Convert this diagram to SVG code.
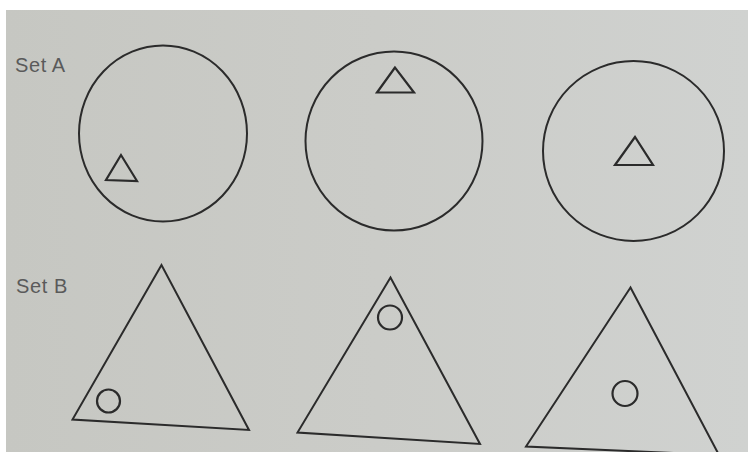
<svg xmlns="http://www.w3.org/2000/svg" width="748" height="452" viewBox="0 0 748 452">
  <defs>
    <linearGradient id="paper" x1="0" y1="0" x2="1" y2="0">
      <stop offset="0" stop-color="#c6c7c2"/>
      <stop offset="0.5" stop-color="#cbccc8"/>
      <stop offset="1" stop-color="#d0d2d0"/>
    </linearGradient>
  </defs>
  <style>
    .shape { fill: none; stroke: #2b2b2b; stroke-width: 2; stroke-linejoin: miter; }
    .small { fill: none; stroke: #2b2b2b; stroke-width: 2.2; }
    .label { font-family: "Liberation Sans", Arial, sans-serif; font-size: 20px; fill: #5a5a5a; letter-spacing: 0.6px; }
  </style>
  <rect x="0" y="0" width="748" height="452" fill="#ffffff"/>
  <rect x="6" y="10" width="742" height="442" fill="url(#paper)"/>

  <g id="label-set-a"><text class="label" x="15" y="72">Set A</text></g>
  <g id="label-set-b"><text class="label" x="16" y="293">Set B</text></g>

  <g id="a1">
    <ellipse class="shape" cx="163" cy="133.5" rx="84" ry="88"/>
    <polygon class="small" points="121,155 106,180 137,181"/>
  </g>
  <g id="a2">
    <ellipse class="shape" cx="394" cy="141" rx="88.5" ry="89.5"/>
    <polygon class="small" points="395,67.5 377,92.5 414,92.5"/>
  </g>
  <g id="a3">
    <ellipse class="shape" cx="633.5" cy="151" rx="90.5" ry="90"/>
    <polygon class="small" points="635,137 615,165 653,165"/>
  </g>

  <g id="b1">
    <polygon class="shape" points="161.5,265 72.5,419.5 249,430"/>
    <circle class="small" cx="108.5" cy="401" r="11.5"/>
  </g>
  <g id="b2">
    <polygon class="shape" points="390.5,277.5 297.5,432.5 480,444"/>
    <circle class="small" cx="390" cy="317.5" r="12"/>
  </g>
  <g id="b3">
    <polygon class="shape" points="630.5,287.5 526,446.5 719,455"/>
    <circle class="small" cx="625" cy="393.5" r="12.5"/>
  </g>
  <g id="connectors"/>
</svg>
